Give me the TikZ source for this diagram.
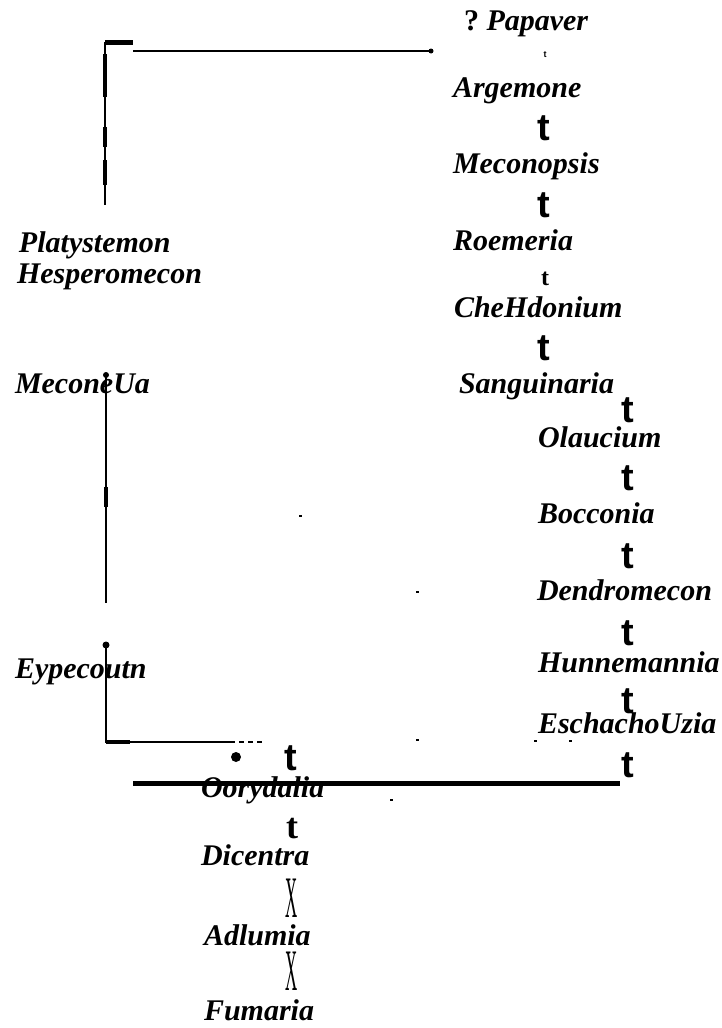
\documentclass[tikz,border=0pt]{standalone}
\usepackage{fontspec}
\setmainfont{Liberation Serif}
\newfontfamily\tsans{Liberation Sans}
\usepackage{tikz}

\begin{document}
\begin{tikzpicture}[x = 1pt, y = -1pt, line width = 2pt,
				genus/.style = {anchor = base west, inner sep = 0pt,
				font = \fontsize{30}{30}\selectfont\bfseries\itshape},
				tbig/.style = {anchor = base, inner sep = 0pt,
				font = \tsans\fontsize{38}{38}\selectfont\bfseries},
				tserif/.style = {anchor = base, inner sep = 0pt,
				font = \fontsize{36}{36}\selectfont\bfseries},
				cross/.style = {anchor = base, inner sep = 0pt,
				font = \fontsize{28}{28}\selectfont},
				speck/.style = {fill = black, inner sep = 0pt,
				minimum width = 3pt, minimum height = 2pt}]

				\useasboundingbox (0,0) rectangle (722,1028);

				% right column
				\node [genus] (papaver) at (463,30) {\upshape ?~\itshape Papaver};
				\node [anchor = base, inner sep = 0pt, font = \tsans\fontsize{9}{9}\selectfont\bfseries] (t_1) at (545,57) {t};
				\node [genus] (argemone) at (452,97) {Argemone};
				\node [tbig] (t_2) at (544,140) {t};
				\node [genus] (meconopsis) at (452,173) {Meconopsis};
				\node [tbig] (t_3) at (544,217) {t};
				\node [genus] (roemeria) at (452,250) {Roemeria};
				\node [anchor = base, inner sep = 0pt, font = \fontsize{24}{24}\selectfont\bfseries] (t_4) at (545,285) {t};
				\node [genus] (chelidonium) at (453,317) {CheHdonium};
				\node [tbig] (t_5) at (544,360) {t};
				\node [genus] (sanguinaria) at (458,393) {Sanguinaria};
				\node [tbig] (t_6) at (628,422) {t};
				\node [genus] (glaucium) at (537,447) {Olaucium};
				\node [tbig] (t_7) at (628,490) {t};
				\node [genus] (bocconia) at (537,523) {Bocconia};
				\node [tbig] (t_8) at (628,568) {t};
				\node [genus] (dendromecon) at (536,600) {Dendromecon};
				\node [tbig] (t_9) at (628,645) {t};
				\node [genus] (hunnemannia) at (537,672) {Hunnemannia};
				\node [tbig] (t_10) at (628,713) {t};
				\node [genus] (eschscholzia) at (537,733) {EschachoUzia};
				\node [tbig] (t_11) at (628,777) {t};

				% left column
				\node [genus] (platystemon) at (18,252) {Platystemon};
				\node [genus] (hesperomecon) at (16,283) {Hesperomecon};
				\node [genus] (meconella) at (14,393) {MeconeUa};
				\node [genus] (hypecoum) at (14,678) {Eypecoutn};

				% lower column
				\node [circle, fill, inner sep = 0pt, minimum size = 10pt] (dot) at (236,757) {};
				\node [tbig] (t_12) at (291,770) {t};
				\node [genus] (corydalis) at (200,797) {Oorydalia};
				\node [tserif] (t_13) at (292,838) {t};
				\node [genus] (dicentra) at (200,865) {Dicentra};
				\node [cross] (x_1) at (292,917) {\scalebox{0.6}[2.1]{X}};
				\node [genus] (adlumia) at (203,945) {Adlumia};
				\node [cross] (x_2) at (292,990) {\scalebox{0.6}[2.1]{X}};
				\node [genus] (fumaria) at (203,1020) {Fumaria};

				% brackets
				\coordinate (b_1) at (105,42);
				\coordinate (b_2) at (105,205);
				\coordinate (b_3) at (133,42);
				\coordinate (h_1) at (133,51);
				\coordinate (h_2) at (431,51);
				\coordinate (v_1) at (106,375);
				\coordinate (v_2) at (106,603);
				\coordinate (w_1) at (106,645);
				\coordinate (w_2) at (106,742);
				\coordinate (w_3) at (230,742);
				\coordinate (w_4) at (262,742);
				\coordinate (r_1) at (133,783);
				\coordinate (r_2) at (620,783);

				\draw [line width = 5pt] (b_1) -- (b_3);
				\draw (b_1) -- (b_2);
				\draw [line width = 4pt] ([yshift=-12pt]b_1) -- ([yshift=-55pt]b_1);
				\draw [line width = 4pt] ([yshift=-85pt]b_1) -- ([yshift=-105pt]b_1);
				\draw [line width = 4pt] ([yshift=-118pt]b_1) -- ([yshift=-143pt]b_1);
				\draw (h_1) -- (h_2);
				\fill (h_2) circle (2.5pt);

				\draw (v_1) -- (v_2);
				\fill (v_1) circle (3pt);
				\draw [line width = 4pt] ([yshift=-112pt]v_1) -- ([yshift=-132pt]v_1);

				\draw (w_1) -- (w_2) -- (w_3);
				\draw [dash pattern = on 5pt off 4pt] (w_3) -- (w_4);
				\draw [line width = 3.5pt] (w_2) -- ([xshift=24pt]w_2);
				\fill (w_1) circle (3.5pt);

				\draw [line width = 5pt] (r_1) -- (r_2);

				\node [speck] (s_1) at (300,516) {};
				\node [speck] (s_2) at (417,592) {};
				\node [speck] (s_3) at (391,800) {};
				\node [speck] (s_4) at (417,740) {};
				\node [speck] (s_5) at (535,741) {};
				\node [speck] (s_6) at (570,741) {};
			\end{tikzpicture}
\end{document}
